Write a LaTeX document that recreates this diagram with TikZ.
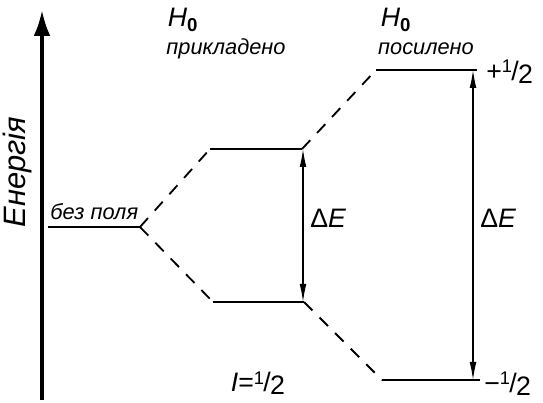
\documentclass[tikz,border=0pt]{standalone}
\usepackage{fontspec}
\setmainfont{Liberation Sans}
\usetikzlibrary{arrows.meta}
\usetikzlibrary{positioning}

\newcommand{\halfspin}{\raisebox{0.55ex}{\fontsize{13}{13}\selectfont 1}\kern-0.03em/\kern-0.02em\raisebox{-0.2ex}{2}}

\tikzset{
  level/.style={line width=2pt},
  link/.style={line width=1.3pt,dash pattern=on 0.3cm off 0.25cm},
  gap/.style={line width=0.9pt,{Latex[length=0.45cm,width=0.17cm]}-{Latex[length=0.45cm,width=0.17cm]}},
  lbl/.style={font=\fontsize{15.5}{18}\selectfont\itshape,inner sep=0pt},
  num/.style={font=\fontsize{19}{21}\selectfont,inner sep=0pt}
}

\begin{document}
\begin{tikzpicture}
\useasboundingbox (0,0) rectangle (13.575,10.05);
% energy axis
\coordinate (ax0) at (1.05,0.05);
\coordinate (ax1) at (1.05,9.8);
\draw[line width=2.6pt,-{Latex[length=0.65cm,width=0.42cm]}] (ax0) -- (ax1);
\node[lbl,font=\fontsize{22}{24}\selectfont\itshape,rotate=90] (energy) at (0.45,5.75) {Енергія};

% levels
\coordinate (z1) at (1.2,4.375);   \coordinate (z2) at (3.5,4.375);
\coordinate (b1) at (5.25,6.325);  \coordinate (b2) at (7.55,6.325);
\coordinate (c1) at (5.325,2.5);   \coordinate (c2) at (7.6,2.5);
\coordinate (d1) at (9.4,8.3);     \coordinate (d2) at (11.925,8.3);
\coordinate (e1) at (9.55,0.55);   \coordinate (e2) at (12.0,0.55);
\draw[level] (z1) -- (z2);
\draw[level] (b1) -- (b2);
\draw[level] (c1) -- (c2);
\draw[level] (d1) -- (d2);
\draw[level] (e1) -- (e2);

\draw[link] (z2) -- (b1);
\draw[link] (z2) -- (c1);
\draw[link] (b2) -- (d1);
\draw[link] (c2) -- (e1);

% splittings
\coordinate (b3) at (7.575,6.325); \coordinate (c3) at (7.575,2.5);
\coordinate (d3) at (11.825,8.3);  \coordinate (e3) at (11.825,0.55);
\draw[gap] (c3) -- (b3);
\draw[gap] (e3) -- (d3);

\node[lbl,anchor=base west] (nofield) at (1.25,4.55) {без поля};
\node[num,anchor=west] (dE1) at (7.75,4.6) {Δ\textit{E}};
\node[num,anchor=west] (dE2) at (12.0,4.6) {Δ\textit{E}};
\node[num,anchor=west] (up) at (12.15,8.25) {+\halfspin};
\node[num,anchor=west] (down) at (12.1,0.45) {−\halfspin};
\node[num] (spin) at (6.45,0.47) {\textit{I}=\halfspin};

\node[num] (H1) at (4.575,9.55) {\textit{H}\textsubscript{\bfseries 0}};
\node[lbl] (applied) at (5.65,8.82) {прикладено};
\node[num] (H2) at (9.9,9.55) {\textit{H}\textsubscript{\bfseries 0}};
\node[lbl] (stronger) at (10.65,8.82) {посилено};

\end{tikzpicture}
\end{document}
